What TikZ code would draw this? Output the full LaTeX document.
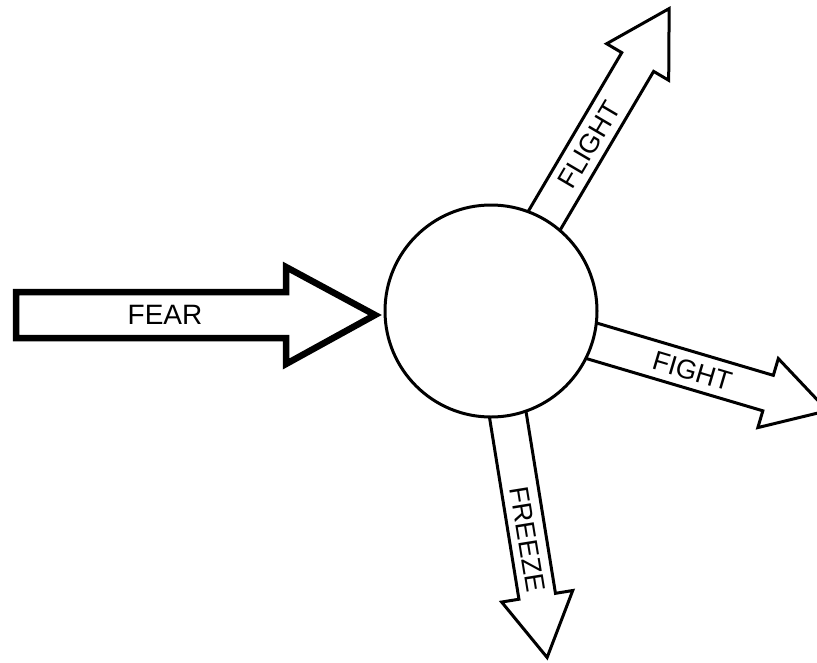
\documentclass[tikz,border=0pt]{standalone}
\usepackage{fontspec}
\setmainfont{Liberation Sans}
\tikzset{
  outline/.style={draw=black, line width=3pt, line join=miter, miter limit=10},
  thickoutline/.style={draw=black, line width=6.5pt, line join=miter, miter limit=10},
  lbl/.style={inner sep=0pt, font=\fontsize{27}{27}\selectfont, text height=19.3pt, text depth=0pt},
  biglbl/.style={inner sep=0pt, font=\fontsize{28}{28}\selectfont, text height=20pt, text depth=0pt}
}
\newcommand{\radialarrow}[1]{%
  \draw[outline] (104.37,18.5) -- (289,18.5) -- (289,36) -- (351,0) -- (289,-36) -- (289,-18.5) -- (104.37,-18.5);}
\begin{document}
\begin{tikzpicture}[x=1pt,y=-1pt]
\useasboundingbox (0,0) rectangle (817,662);
\clip (0,0) rectangle (817,662);
\fill[white] (0,0) rectangle (817,662);
% centre circle
\node[outline, circle, minimum size=212pt, inner sep=0pt] (c) at (491,311) {};
% FEAR arrow
\coordinate (feartip) at (375,315);
\draw[thickoutline] (16,292) -- (286,292) -- (286,267) -- (feartip) -- (286,364) -- (286,338) -- (16,338) -- cycle;
\node[biglbl] (fear) at (165,314) {FEAR};
% FLIGHT
\begin{scope}[shift={(c.center)}, rotate=59.5]
  \radialarrow{}
  \node[lbl, rotate=59.5] (flight) at (193,0) {FLIGHT};
\end{scope}
% FIGHT
\begin{scope}[shift={(c.center)}, rotate=-16.5]
  \radialarrow{}
  \node[lbl, rotate=-16.5] (fight) at (210,0) {FIGHT};
\end{scope}
% FREEZE
\begin{scope}[shift={(c.center)}, rotate=-80.8]
  \radialarrow{}
  \node[lbl, rotate=-80.8] (freeze) at (231,0) {FREEZE};
\end{scope}
\end{tikzpicture}
\end{document}
